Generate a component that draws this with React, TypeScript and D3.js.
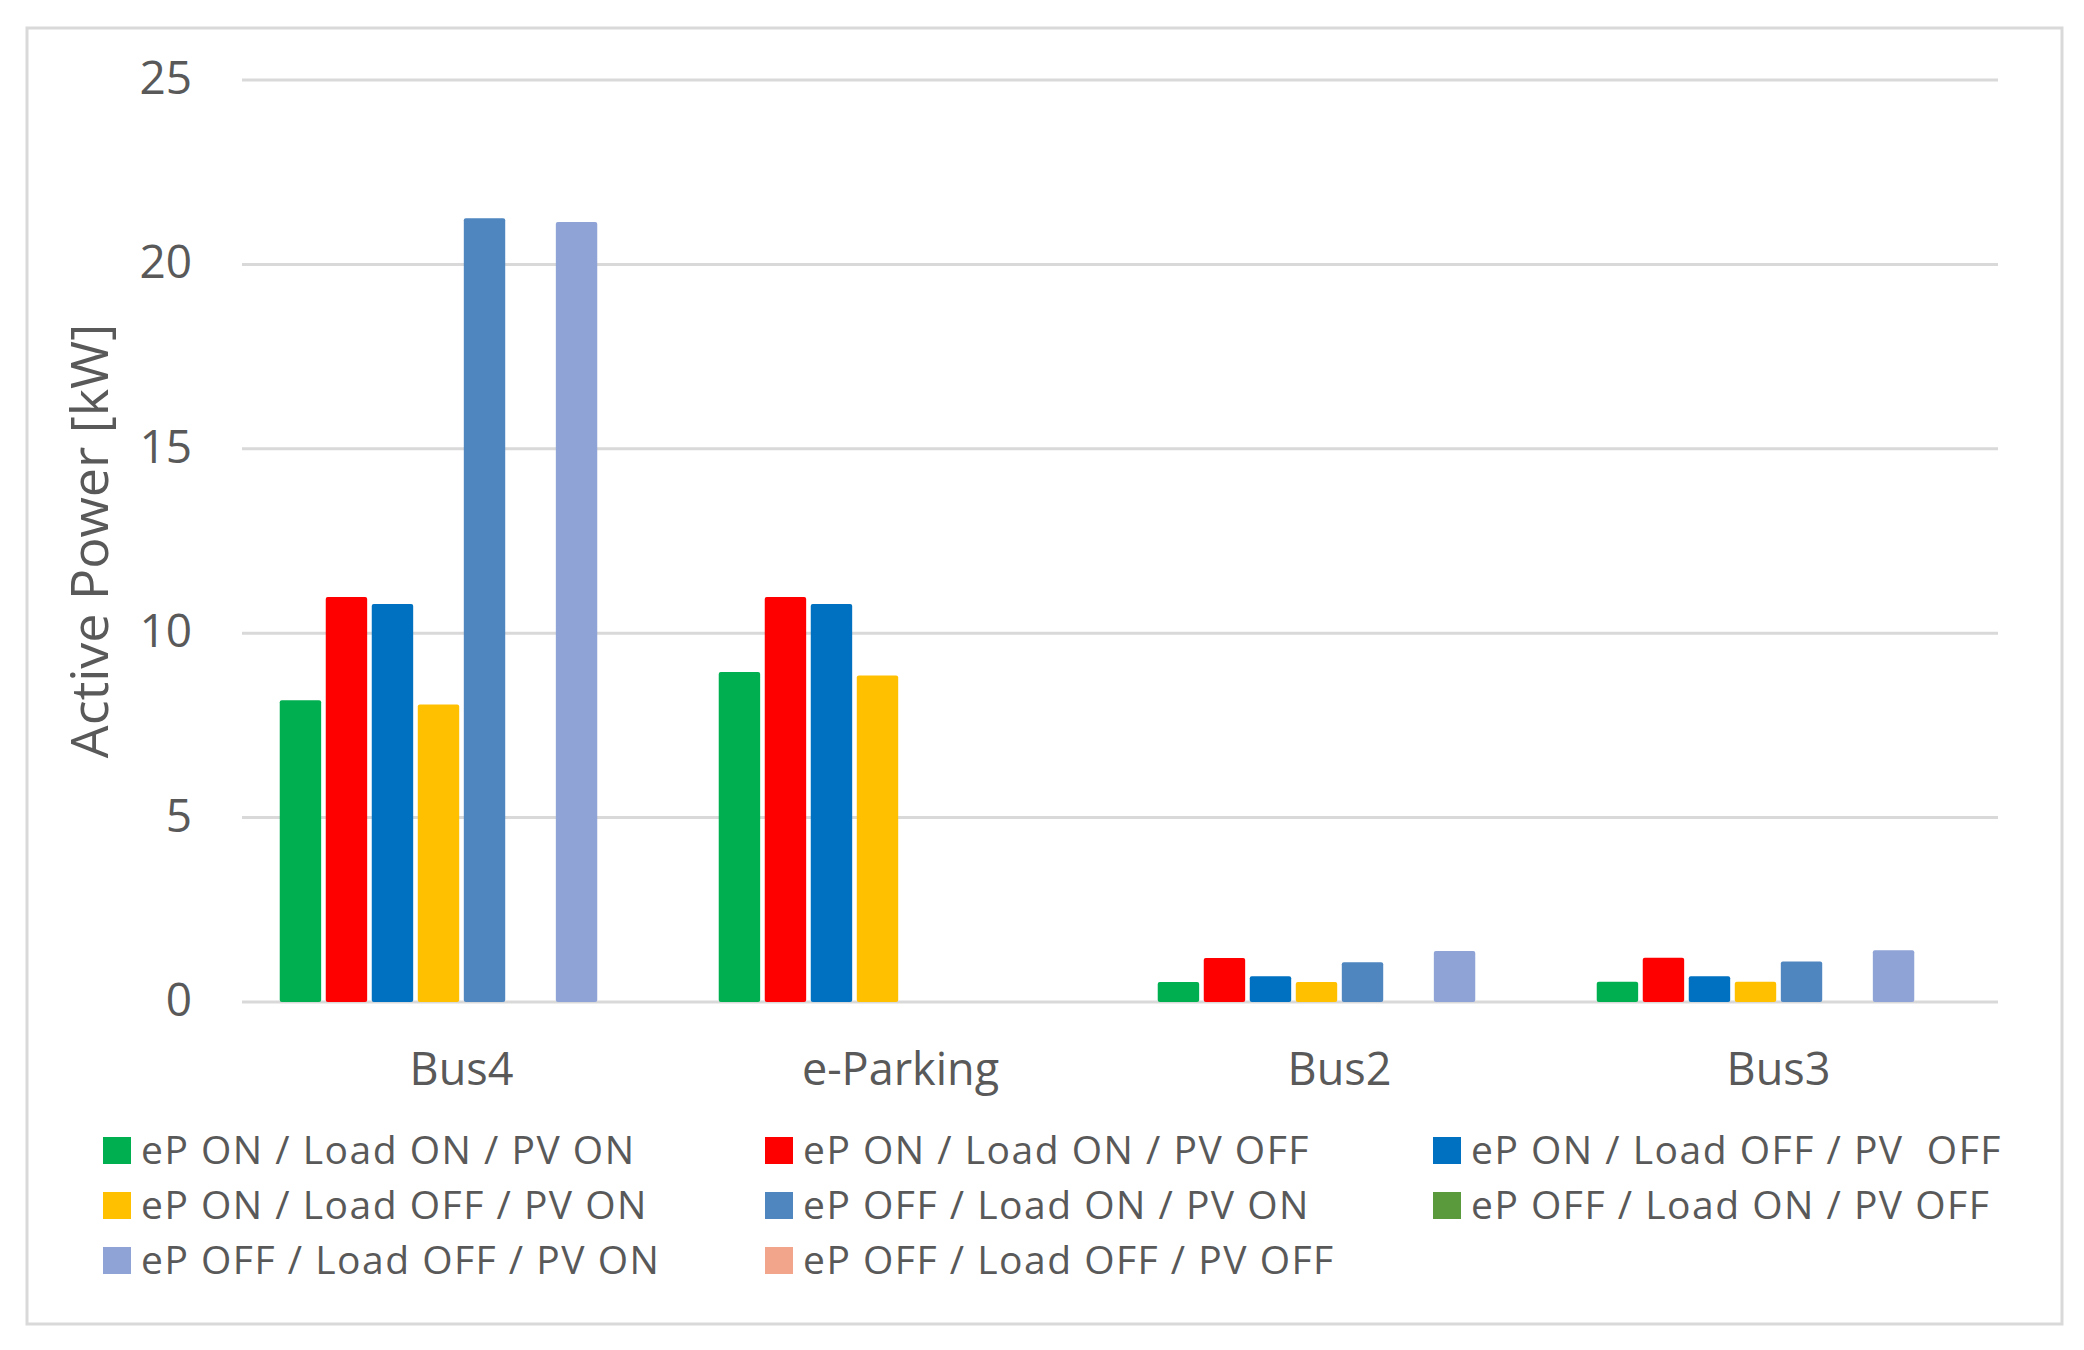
import React from "react";
import * as d3 from "d3";

const categories = ["Bus4", "e-Parking", "Bus2", "Bus3"];

const seriesNames = [
  "eP ON / Load ON / PV ON",
  "eP ON / Load ON / PV OFF",
  "eP ON / Load OFF / PV  OFF",
  "eP ON / Load OFF / PV ON",
  "eP OFF / Load ON / PV ON",
  "eP OFF / Load ON / PV OFF",
  "eP OFF / Load OFF / PV ON",
  "eP OFF / Load OFF / PV OFF",
];

const seriesColors = [
  "#00b050",
  "#ff0000",
  "#0070c0",
  "#ffc000",
  "#4f86c0",
  "#5a9a3c",
  "#8fa3d6",
  "#f2a58b",
];

const epOnLoadOnPvOn = [8.18, 8.95, 0.54, 0.55];
const epOnLoadOnPvOff = [10.98, 10.98, 1.19, 1.2];
const epOnLoadOffPvOff = [10.79, 10.79, 0.7, 0.7];
const epOnLoadOffPvOn = [8.07, 8.85, 0.54, 0.55];
const epOffLoadOnPvOn = [21.25, 0, 1.08, 1.1];
const epOffLoadOnPvOff = [0, 0, 0, 0];
const epOffLoadOffPvOn = [21.15, 0, 1.38, 1.4];
const epOffLoadOffPvOff = [0, 0, 0, 0];

const seriesValues = [
  epOnLoadOnPvOn,
  epOnLoadOnPvOff,
  epOnLoadOffPvOff,
  epOnLoadOffPvOn,
  epOffLoadOnPvOn,
  epOffLoadOnPvOff,
  epOffLoadOffPvOn,
  epOffLoadOffPvOff,
];

const yTicks = [0, 5, 10, 15, 20, 25];
const yTitle = "Active Power [kW]";

const W = 2084;
const H = 1350;
const plotLeft = 242;
const plotRight = 1998;
const plotTop = 80;
const plotBottom = 1002;

const FONT = "'Open Sans', 'Segoe UI', sans-serif";
const TEXT = "#595959";
const GRID = "#d9d9d9";

export default function App() {
  const x0 = d3
    .scaleBand<string>()
    .domain(categories)
    .range([plotLeft, plotRight])
    .padding(0);
  const x1 = d3
    .scaleBand<number>()
    .domain(d3.range(seriesNames.length))
    .range([0, x0.bandwidth()])
    .paddingInner(0.1)
    .paddingOuter(0.82);
  const y = d3.scaleLinear().domain([0, 25]).range([plotBottom, plotTop]);

  const legendCols = [103, 765, 1433];
  const legendRows = [1150, 1205, 1260];

  return (
    <svg
      width={W}
      height={H}
      style={{ position: "absolute", left: 0, top: 0, background: "#fff" }}
      fontFamily={FONT}
    >
      <rect x={0} y={0} width={W} height={H} fill="#ffffff" />
      <rect
        x={27}
        y={28}
        width={2035}
        height={1296}
        fill="#ffffff"
        stroke={GRID}
        strokeWidth={3}
      />
      {/* gridlines */}
      {yTicks.map((t) => (
        <line
          key={"g" + t}
          x1={plotLeft}
          x2={plotRight}
          y1={y(t)}
          y2={y(t)}
          stroke={GRID}
          strokeWidth={3}
        />
      ))}
      {/* tick labels */}
      {yTicks.map((t) => (
        <text
          key={"t" + t}
          x={192}
          y={y(t) + 14}
          textAnchor="end"
          fontSize={46}
          fill={TEXT}
        >
          {t}
        </text>
      ))}
      {/* bars */}
      {categories.map((c, ci) => (
        <g key={c} transform={`translate(${x0(c)},0)`}>
          {seriesValues.map((vals, si) =>
            vals[ci] > 0 ? (
              <rect
                key={si}
                x={x1(si)}
                y={y(vals[ci])}
                width={x1.bandwidth()}
                height={y(0) - y(vals[ci])}
                fill={seriesColors[si]}
                rx={2}
              />
            ) : null
          )}
        </g>
      ))}
      {/* category labels */}
      {categories.map((c) => (
        <text
          key={"c" + c}
          x={(x0(c) as number) + x0.bandwidth() / 2}
          y={1085}
          textAnchor="middle"
          fontSize={45}
          fill={TEXT}
        >
          {c}
        </text>
      ))}
      {/* y title */}
      <text
        transform={`translate(108, 541) rotate(-90)`}
        textAnchor="middle"
        fontSize={52}
        fill={TEXT}
      >
        {yTitle}
      </text>
      {/* legend */}
      {seriesNames.map((name, i) => {
        const col = i % 3;
        const row = Math.floor(i / 3);
        const lx = legendCols[col];
        const ly = legendRows[row];
        return (
          <g key={"l" + i}>
            <rect
              x={lx}
              y={ly - 13}
              width={28}
              height={27}
              fill={seriesColors[i]}
            />
            <text
              x={lx + 38}
              y={ly + 14}
              fontSize={39}
              letterSpacing={1.5}
              fill={TEXT}
              style={{ whiteSpace: "pre" }}
            >
              {name}
            </text>
          </g>
        );
      })}
    </svg>
  );
}
